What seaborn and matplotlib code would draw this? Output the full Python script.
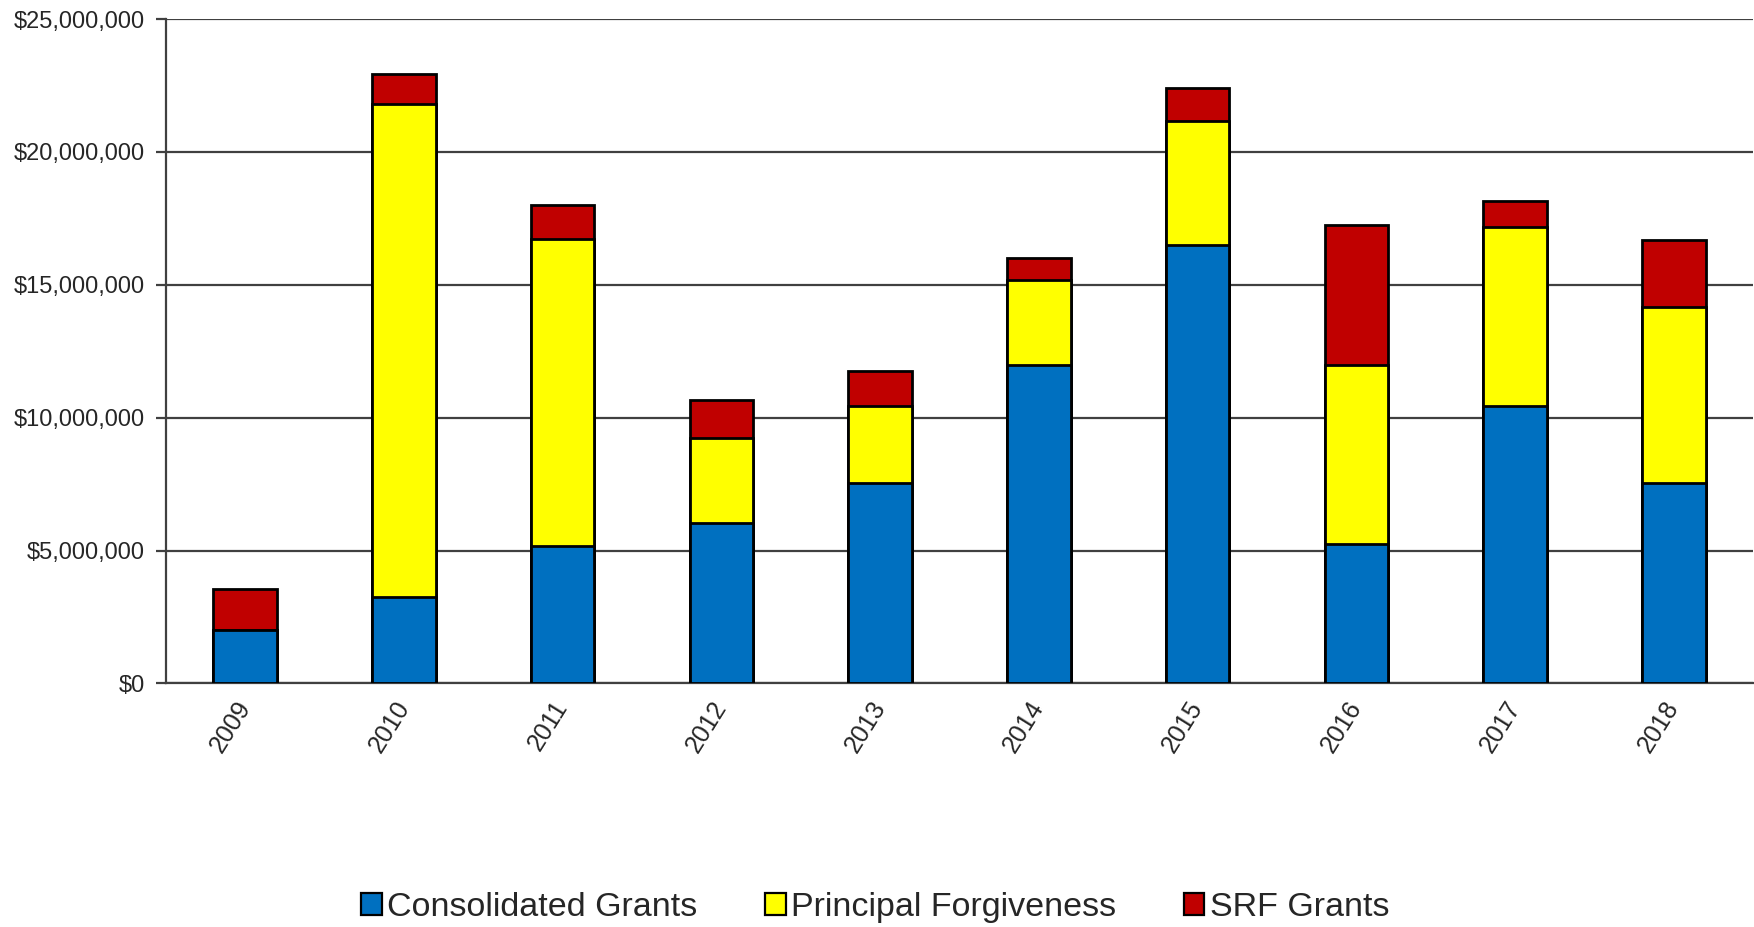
import numpy as np
import pandas as pd
import matplotlib
matplotlib.use("Agg")
import matplotlib.pyplot as plt
import seaborn as sns
from matplotlib.patches import Patch
from matplotlib.ticker import FuncFormatter, FixedLocator

years = ["2009", "2010", "2011", "2012", "2013", "2014", "2015", "2016", "2017", "2018"]
consolidated = [2.00, 3.25, 5.18, 6.04, 7.54, 11.97, 16.48, 5.23, 10.45, 7.53]   # $ millions
principal = [0.00, 18.55, 11.56, 3.20, 2.91, 3.20, 4.70, 6.77, 6.71, 6.63]
srf = [1.55, 1.13, 1.26, 1.44, 1.29, 0.82, 1.24, 5.25, 0.98, 2.52]
series_names = ["Consolidated Grants", "Principal Forgiveness", "SRF Grants"]
colors = ["#0070C0", "#FFFF00", "#C00000"]
ytick_values = [0, 5, 10, 15, 20, 25]

sns.set_style("white")
plt.rcParams["font.family"] = ["Liberation Sans", "DejaVu Sans"]

df = pd.DataFrame({
    "year": years,
    "c": np.array(consolidated) * 1e6,
    "p": np.array(principal) * 1e6,
    "s": np.array(srf) * 1e6,
})
df["cum_c"] = df["c"]
df["cum_p"] = df["c"] + df["p"]
df["cum_s"] = df["c"] + df["p"] + df["s"]

fig = plt.figure(figsize=(17.54, 9.27), dpi=100)
ax = fig.add_axes([0.0945, 0.2627, 0.9050, 0.7168])

for col, color in zip(["cum_s", "cum_p", "cum_c"], [colors[2], colors[1], colors[0]]):
    sns.barplot(data=df, x="year", y=col, order=years, color=color, width=0.4,
                edgecolor="black", linewidth=2.0, saturation=1, ax=ax, zorder=3)

ax.set_xlim(-0.5, len(years) - 0.5)
ax.set_ylim(0, 25e6)
ax.yaxis.set_major_locator(FixedLocator([v * 1e6 for v in ytick_values]))
ax.yaxis.set_major_formatter(FuncFormatter(lambda v, p: f"${v:,.0f}"))
ax.set_xlabel("")
ax.set_ylabel("")

ax.grid(axis="y", color="#404040", linewidth=1.6, zorder=0)
ax.grid(axis="x", visible=False)
ax.set_axisbelow(True)

for side in ["top", "right"]:
    ax.spines[side].set_visible(False)
for side in ["left", "bottom"]:
    ax.spines[side].set_color("#404040")
    ax.spines[side].set_linewidth(1.6)

# tick marks between categories, labels at centers
ax.set_xticks(np.arange(len(years)))
ax.set_xticklabels(years, rotation=58, ha="right", va="center", rotation_mode="anchor",
                   fontsize=18, color="#262626")
ax.set_xticks(np.arange(len(years) + 1) - 0.5, minor=True)
ax.tick_params(axis="x", which="major", length=0, pad=14)
ax.tick_params(axis="x", which="minor", length=7, width=1.6, color="#404040", direction="out")
ax.tick_params(axis="y", which="major", length=7, width=1.6, color="#404040", direction="out",
               labelsize=17, labelcolor="#262626", pad=8)
ax.tick_params(axis="both", left=True, bottom=True)

handles = [Patch(facecolor=c, edgecolor="black", linewidth=1.6) for c in colors]
fig.legend(handles, series_names, loc="center", bbox_to_anchor=(0.499, 0.021), ncol=3,
           frameon=False, prop={"size": 24.5},
           handlelength=0.6, handleheight=0.65, handletextpad=0.15, columnspacing=2.0)

fig.savefig("out.png", dpi=100)
